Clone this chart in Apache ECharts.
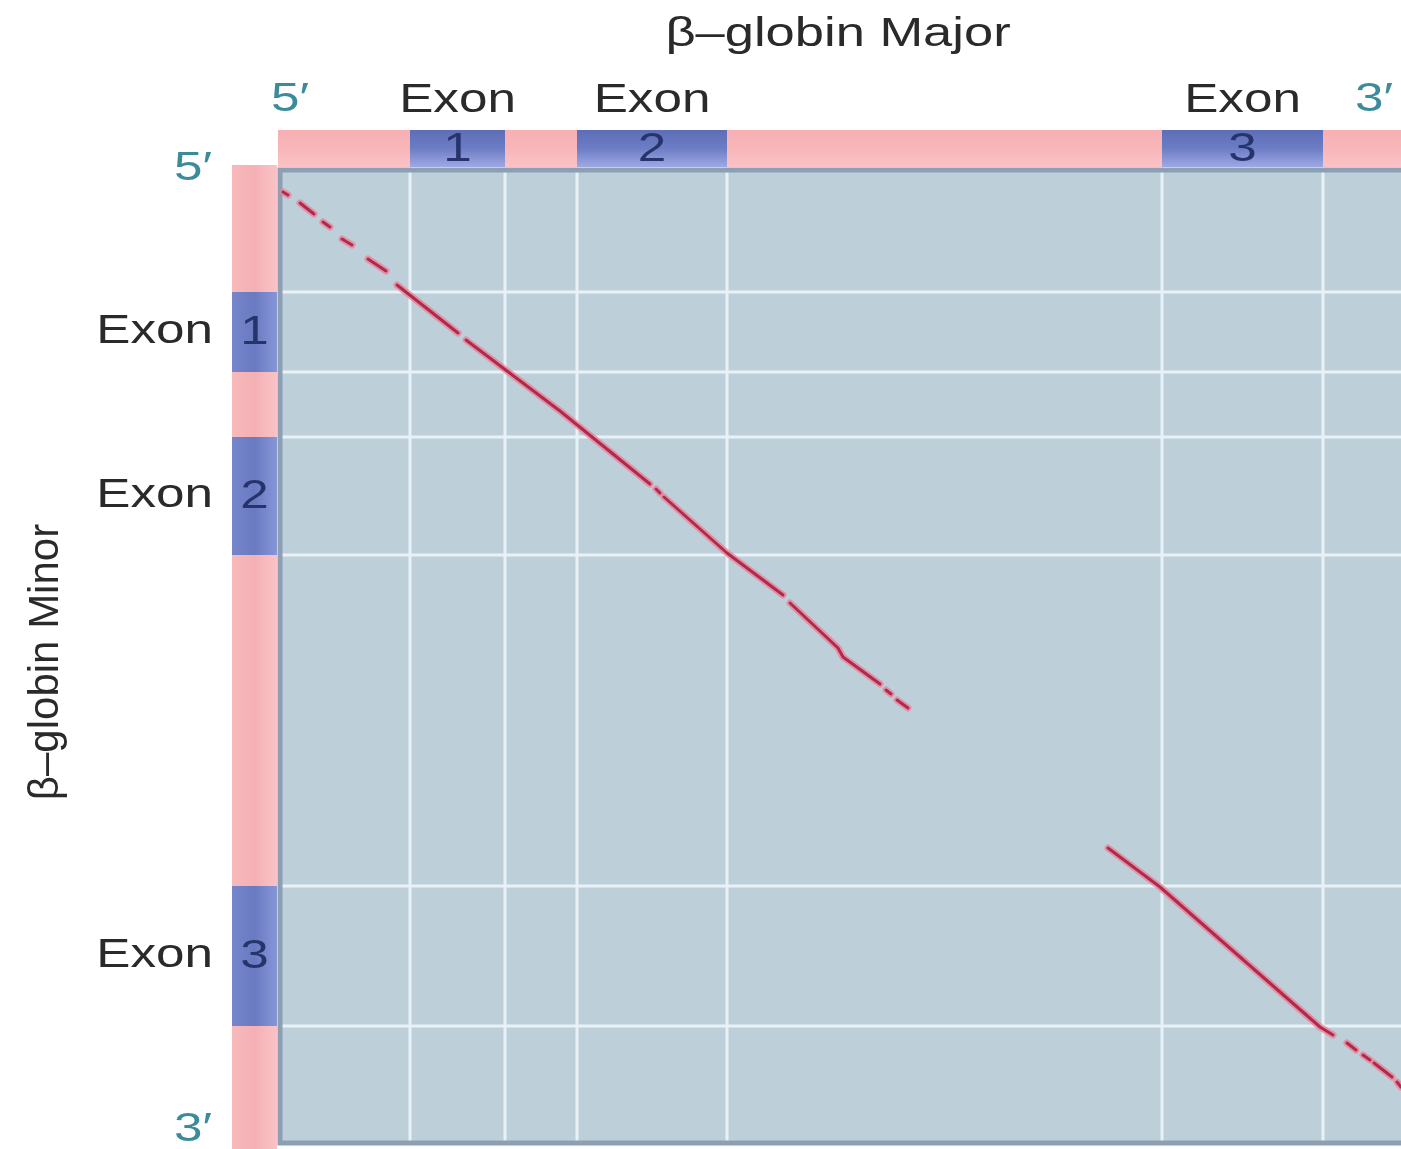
<!DOCTYPE html>
<html>
<head>
<meta charset="utf-8">
<script src="https://cdn.jsdelivr.net/npm/echarts@6/dist/echarts.min.js"></script>
<style>
html,body{margin:0;padding:0;background:#ffffff;}
#chart{width:1401px;height:1149px;}
</style>
</head>
<body>
<div id="chart"></div>
<script>
// ---------- data (sequence positions, arbitrary units) ----------
const majorRange = [0, 1121];          // β-globin Major (x)
const minorRange = [0, 973];           // β-globin Minor (y)
const majorExons = [[130, 225], [297, 447], [882, 1043]];
const minorExons = [[122, 202], [267, 385], [716, 856]];
const exonNames = ['1', '2', '3'];
const exonWord = 'Exon';
const titleMajor = 'β–globin Major';
const titleMinor = 'β–globin Minor';
const endLabels = ['5′', '3′'];

// matching runs of the dot plot (each is a polyline of [major, minor] points)
const matchRunsA = [
  [[3, 22], [8, 25]],
  [[20, 33], [34, 44]],
  [[43, 52], [50, 57]],
  [[62, 69], [72, 75]],
  [[88, 89], [106, 101]],
  [[117, 115], [178, 163]],
  [[186, 170], [280, 241], [370, 314]],
  [[376, 319], [380, 323]],
  [[384, 327], [447, 383], [503, 425]],
  [[510, 433], [558, 478], [563, 487], [600, 514]],
  [[606, 520], [611, 524]],
  [[617, 530], [628, 538]]
];
const matchRunsB = [
  [[828, 678], [880, 717], [1040, 857], [1053, 865]],
  [[1067, 873], [1076, 880]],
  [[1083, 885], [1090, 890]],
  [[1094, 893], [1112, 907]],
  [[1117, 912], [1121, 917]]
];

// ---------- styling ----------
const FONT = '"Liberation Sans", Arial, Helvetica, sans-serif';
const SX = 1.28;
const textDark = '#2a2a2a';
const teal = '#3b8b9b';
const numColor = '#27336b';

function grad(horizontal, stops) {
  return new echarts.graphic.LinearGradient(0, 0, horizontal ? 1 : 0, horizontal ? 0 : 1,
    stops.map((c, i) => ({offset: i / (stops.length - 1), color: c})));
}
const pinkTop = grad(false, ['#f7b0b4', '#f8b6b9', '#fbc3c6']);
const blueTop = grad(false, ['#5d6db7', '#6d7dc5', '#9ea8e4']);
const pinkLeft = grad(true, ['#f7b9bc', '#f5b0b4', '#f9c3c6']);
const blueLeft = grad(true, ['#7686ca', '#6a7ac2', '#8796d8']);

function stripItems(exons, range) {
  const items = [[range[0] - 2, range[1] + 6, 0, '']];
  exons.forEach((e, i) => items.push([e[0], e[1], 1, exonNames[i]]));
  return items;
}

function txt(x, y, s, font, fill, extra) {
  return Object.assign({
    type: 'text', x: x, y: y, scaleX: SX,
    style: {text: s, x: 0, y: 0, font: font, fill: fill, align: 'center', verticalAlign: 'middle'}
  }, extra || {});
}

const chart = echarts.init(document.getElementById('chart'), null, {renderer: 'canvas'});

const option = {
  animation: false,
  backgroundColor: '#ffffff',
  grid: [
    {left: 280, top: 170, right: 0, height: 973, show: true,
     backgroundColor: '#bdcfd9', borderWidth: 0},
    {left: 280, top: 130, right: 0, height: 37, show: false},
    {left: 232, top: 170, width: 45, height: 973, show: false}
  ],
  xAxis: [
    {type: 'value', gridIndex: 0, min: majorRange[0], max: majorRange[1], show: false},
    {type: 'value', gridIndex: 1, min: majorRange[0], max: majorRange[1], show: false},
    {type: 'value', gridIndex: 2, min: 0, max: 1, show: false}
  ],
  yAxis: [
    {type: 'value', gridIndex: 0, min: minorRange[0], max: minorRange[1], inverse: true, show: false},
    {type: 'value', gridIndex: 1, min: 0, max: 1, show: false},
    {type: 'value', gridIndex: 2, min: minorRange[0], max: minorRange[1], inverse: true, show: false}
  ],
  graphic: [
    txt(838, 35, titleMajor, '41px ' + FONT, textDark),
    txt(290, 100, endLabels[0], '40px ' + FONT, teal),
    txt(1374, 100, endLabels[1], '40px ' + FONT, teal),
    txt(193, 169, endLabels[0], '40px ' + FONT, teal),
    txt(193, 1130, endLabels[1], '40px ' + FONT, teal),
    {type: 'text', x: 46, y: 662, rotation: Math.PI / 2,
     style: {text: titleMinor, x: 0, y: 0, font: '42px ' + FONT, fill: textDark,
             align: 'center', verticalAlign: 'middle'}}
  ],
  series: [
    // white grid lines at exon boundaries
    {
      type: 'custom', xAxisIndex: 0, yAxisIndex: 0, silent: true, z: 2,
      data: majorExons.flat().map(v => [v, 0]).concat(minorExons.flat().map(v => [v, 1])),
      renderItem: function (params, api) {
        const cs = params.coordSys;
        const v = api.value(0), dim = api.value(1);
        let shape;
        if (dim === 0) {
          const x = api.coord([v, 0])[0];
          shape = {x1: x, y1: cs.y + 2, x2: x, y2: cs.y + cs.height - 2};
        } else {
          const y = api.coord([0, v])[1];
          shape = {x1: cs.x + 2, y1: y, x2: cs.x + cs.width, y2: y};
        }
        return {type: 'line', shape: shape, style: {stroke: '#e8f1f6', lineWidth: 3}};
      }
    },
    // plot frame (top, left, bottom edges)
    {
      type: 'custom', xAxisIndex: 0, yAxisIndex: 0, silent: true, z: 4,
      data: [[0]],
      renderItem: function (params, api) {
        const cs = params.coordSys;
        return {
          type: 'polyline',
          shape: {points: [[cs.x + cs.width + 10, cs.y], [cs.x, cs.y],
                           [cs.x, cs.y + cs.height], [cs.x + cs.width + 10, cs.y + cs.height]]},
          style: {stroke: '#8c9fb3', lineWidth: 5, fill: null}
        };
      }
    },
    // top strip (β-globin Major)
    {
      type: 'custom', xAxisIndex: 1, yAxisIndex: 1, silent: true, z: 3,
      data: stripItems(majorExons, majorRange),
      renderItem: function (params, api) {
        const cs = params.coordSys;
        const x0 = api.coord([api.value(0), 0])[0];
        const x1 = api.coord([api.value(1), 0])[0];
        const isExon = api.value(2) === 1;
        const children = [{
          type: 'rect', shape: {x: x0, y: cs.y, width: x1 - x0, height: cs.height},
          style: {fill: isExon ? blueTop : pinkTop}
        }];
        if (isExon) {
          const cx = (x0 + x1) / 2;
          children.push(txt(cx, cs.y + cs.height / 2 + 1, api.value(3), '40px ' + FONT, numColor));
          children.push(txt(cx, cs.y - 29, exonWord, '40px ' + FONT, textDark));
        }
        return {type: 'group', children: children};
      }
    },
    // left strip (β-globin Minor)
    {
      type: 'custom', xAxisIndex: 2, yAxisIndex: 2, silent: true, z: 3,
      data: stripItems(minorExons, [-3, 973]),
      renderItem: function (params, api) {
        const cs = params.coordSys;
        const y0 = api.coord([0, api.value(0)])[1];
        const y1 = api.coord([0, api.value(1)])[1];
        const isExon = api.value(2) === 1;
        const children = [{
          type: 'rect', shape: {x: cs.x, y: y0, width: cs.width, height: y1 - y0},
          style: {fill: isExon ? blueLeft : pinkLeft}
        }];
        if (isExon) {
          const cy = (y0 + y1) / 2;
          children.push(txt(cs.x + cs.width / 2, cy + 1, api.value(3), '40px ' + FONT, numColor));
          children.push({
            type: 'text', x: cs.x - 19, y: cy, scaleX: SX,
            style: {text: exonWord, x: 0, y: 0, font: '40px ' + FONT, fill: textDark,
                    align: 'right', verticalAlign: 'middle'}
          });
        }
        return {type: 'group', children: children};
      }
    },
    // dot-plot match runs: soft halo
    {
      type: 'lines', coordinateSystem: 'cartesian2d', xAxisIndex: 0, yAxisIndex: 0,
      polyline: true, silent: true, z: 5,
      data: matchRunsA.concat(matchRunsB).map(c => ({coords: c})),
      lineStyle: {color: '#ec7f95', width: 7, opacity: 0.75, cap: 'round', join: 'round'}
    },
    // dot-plot match runs: core
    {
      type: 'lines', coordinateSystem: 'cartesian2d', xAxisIndex: 0, yAxisIndex: 0,
      polyline: true, silent: true, z: 6,
      data: matchRunsA.concat(matchRunsB).map(c => ({coords: c})),
      lineStyle: {color: '#b02a4c', width: 3, opacity: 1, cap: 'round', join: 'round'}
    }
  ]
};
chart.setOption(option);
</script>
</body>
</html>
